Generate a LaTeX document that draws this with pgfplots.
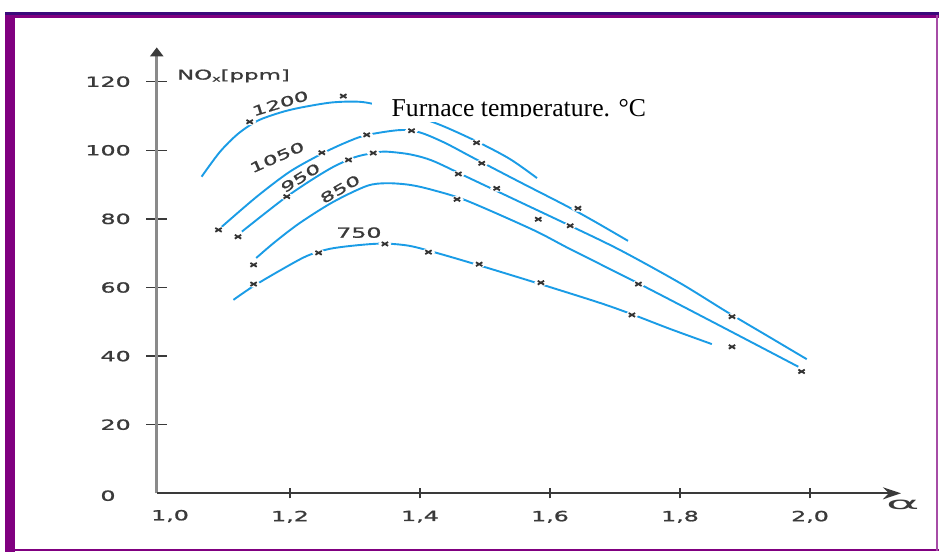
\documentclass[border=0pt]{standalone}
\usepackage{pgfplots}
\pgfplotsset{compat=1.18}
\usepackage{pgfplotstable}
\usepackage{graphicx}
\usepackage{fontspec}
\usetikzlibrary{arrows.meta}
\setmainfont{Liberation Serif}
\newfontfamily\lblfont{DejaVu Sans}[FakeStretch=1.7,FakeBold=1.2]
\definecolor{curve}{HTML}{1A9CE6}
\definecolor{mk}{HTML}{333333}
\definecolor{txt}{HTML}{3A3A3A}
\definecolor{purp}{HTML}{800080}
\definecolor{indig}{HTML}{3A0A7A}
\definecolor{yax}{HTML}{8A8A8A}

\pgfplotstableread{
x y
1.064 92.3
1.092 99.5
1.120 104.8
1.150 108.6
1.185 111.0
1.215 112.4
1.262 113.9
1.300 114.2
1.326 113.6
1.377 111.0
1.431 107.4
1.486 102.7
1.538 97.5
1.580 91.9
}\cA
\pgfplotstableread{
x y
1.095 77.7
1.149 86.5
1.200 93.8
1.249 99.0
1.285 102.2
1.317 104.4
1.369 105.9
1.400 105.2
1.438 102.2
1.482 97.8
1.554 90.7
1.625 83.8
1.669 79.2
1.720 73.6
}\cB
\pgfplotstableread{
x y
1.126 76.3
1.162 81.7
1.195 86.5
1.231 91.1
1.266 95.1
1.300 98.0
1.331 99.3
1.349 99.6
1.385 98.8
1.420 96.9
1.477 91.8
1.554 84.9
1.631 78.0
1.708 70.9
1.800 61.3
1.872 52.9
1.938 45.5
1.995 39.1
}\cC
\pgfplotstableread{
x y
1.148 68.6
1.177 73.3
1.215 78.8
1.266 84.9
1.318 89.6
1.349 90.4
1.385 89.9
1.420 88.4
1.472 85.3
1.574 76.8
1.631 71.2
1.738 61.0
1.862 48.8
1.982 36.9
}\cD
\pgfplotstableread{
x y
1.113 56.4
1.143 60.3
1.185 65.0
1.226 69.2
1.262 71.3
1.308 72.4
1.346 72.8
1.385 72.1
1.431 69.8
1.492 66.4
1.585 61.0
1.677 55.5
1.726 52.2
1.785 47.9
1.849 43.5
}\cE
\pgfplotstableread{
x y
1.138 108.3
1.282 115.8
1.487 102.2
1.090 76.8
1.249 99.3
1.318 104.5
1.387 105.7
1.495 96.2
1.643 83.1
1.120 74.8
1.195 86.5
1.290 97.2
1.328 99.2
1.459 93.1
1.518 88.9
1.631 78.0
1.880 51.5
1.144 66.6
1.457 85.7
1.582 79.9
1.736 61.0
1.880 42.7
1.987 35.5
1.144 61.0
1.244 70.1
1.346 72.7
1.413 70.3
1.491 66.8
1.586 61.4
1.726 52.0
}\marks

\pgfplotsset{base/.style={scale only axis, width=744.25bp, height=445.9bp,
  xmin=0.995, xmax=2.14, ymin=0, ymax=130, at={(156.75bp,58.7bp)},
  anchor=south west, clip=false, enlargelimits=false, tick align=center,
  /pgf/number format/assume math mode=true,
  ticklabel style={font=\lblfont\fontsize{14}{16}\selectfont, text=txt}}}

\begin{document}
\begin{tikzpicture}
\useasboundingbox (0,0) rectangle (939bp,552bp);
\fill[white] (0,0) rectangle (939bp,552bp);
\fill[purp] (5bp,0) rectangle (15bp,540bp);
\fill[indig] (5bp,537bp) rectangle (939bp,540bp);
\fill[purp] (5bp,534bp) rectangle (939bp,537bp);
\fill[purp] (5bp,1bp) rectangle (939bp,3bp);
\fill[purp!70] (935.5bp,1bp) rectangle (937.5bp,537bp);

\begin{axis}[base, axis y line=left, axis x line=none, xtick=\empty,
  ytick={20,40,60,80,100,120}, major tick length=21bp,
  y axis line style={draw=yax, line width=3bp, -{Triangle[length=9bp,width=13bp,color=txt]}},
  ytick style={color=txt, line width=1.3bp},
  yticklabel style={anchor=east, xshift=-12bp}]
\end{axis}

\begin{axis}[base, axis x line=bottom, axis y line=none, ytick=\empty,
  xtick={1.2,1.4,1.6,1.8,2.0}, major tick length=10bp,
  x axis line style={draw=txt, line width=2bp, -{Stealth[length=18bp,width=12bp]}},
  xtick style={color=txt, line width=2bp},
  xticklabel style={yshift=-9bp, /pgf/number format/.cd, fixed, fixed zerofill, precision=1, use comma}]
\addplot[curve, line width=1.9bp, smooth] table {\cA};
\addplot[curve, line width=1.9bp, smooth] table {\cB};
\addplot[curve, line width=1.9bp, smooth] table {\cC};
\addplot[curve, line width=1.9bp, smooth] table {\cD};
\addplot[curve, line width=1.9bp, smooth] table {\cE};
\addplot[only marks, mark=*, mark size=4.5bp, mark options={fill=white, draw=white, xscale=1.4, yscale=0.7}] table {\marks};
\addplot[only marks, mark=x, mark size=4.5bp, mark options={draw=mk, line width=1.8bp, yscale=0.6}] table {\marks};

\node[rotate=17, inner sep=0, text=txt, font=\lblfont\fontsize{13.5}{15}\selectfont] at (axis cs:1.185,113.7) {1200};
\node[rotate=24, inner sep=0, text=txt, font=\lblfont\fontsize{13.5}{15}\selectfont] at (axis cs:1.180,98.0) {1050};
\node[rotate=32, inner sep=0, text=txt, font=\lblfont\fontsize{13.5}{15}\selectfont] at (axis cs:1.216,92.0) {950};
\node[rotate=30, inner sep=0, text=txt, font=\lblfont\fontsize{13.5}{15}\selectfont] at (axis cs:1.277,88.7) {850};
\node[inner sep=0, text=txt, font=\lblfont\fontsize{14}{16}\selectfont] at (axis cs:1.306,76.0) {750};
\node[anchor=west, inner sep=0, text=txt, font=\lblfont\fontsize{13.5}{15}\selectfont] at (axis cs:1.026,121.7) {NO\raisebox{-2bp}{\fontsize{8.5}{9}\selectfont x}[ppm]};
\node[text=txt, font=\lblfont\fontsize{14}{16}\selectfont] at (axis cs:0.92,-0.7) {0};
\node[text=txt, font=\lblfont\fontsize{14}{16}\selectfont] at (axis cs:1.0154,-6.6) {1,0};
\node[text=txt, font=\fontspec{DejaVu Sans}\fontsize{17}{18}\selectfont] at (axis cs:2.143,-3.4) {\scalebox{3}[1]{α}};
\end{axis}

\fill[white] (372bp,430bp) rectangle (813bp,470bp);
\begin{scope}
\clip (372bp,435bp) rectangle (813bp,470bp);
\node[anchor=base west, inner sep=0, font=\fontsize{25.8}{30}\selectfont] at (391.5bp,435.3bp) {Furnace temperature. °C};
\end{scope}
\end{tikzpicture}
\end{document}
